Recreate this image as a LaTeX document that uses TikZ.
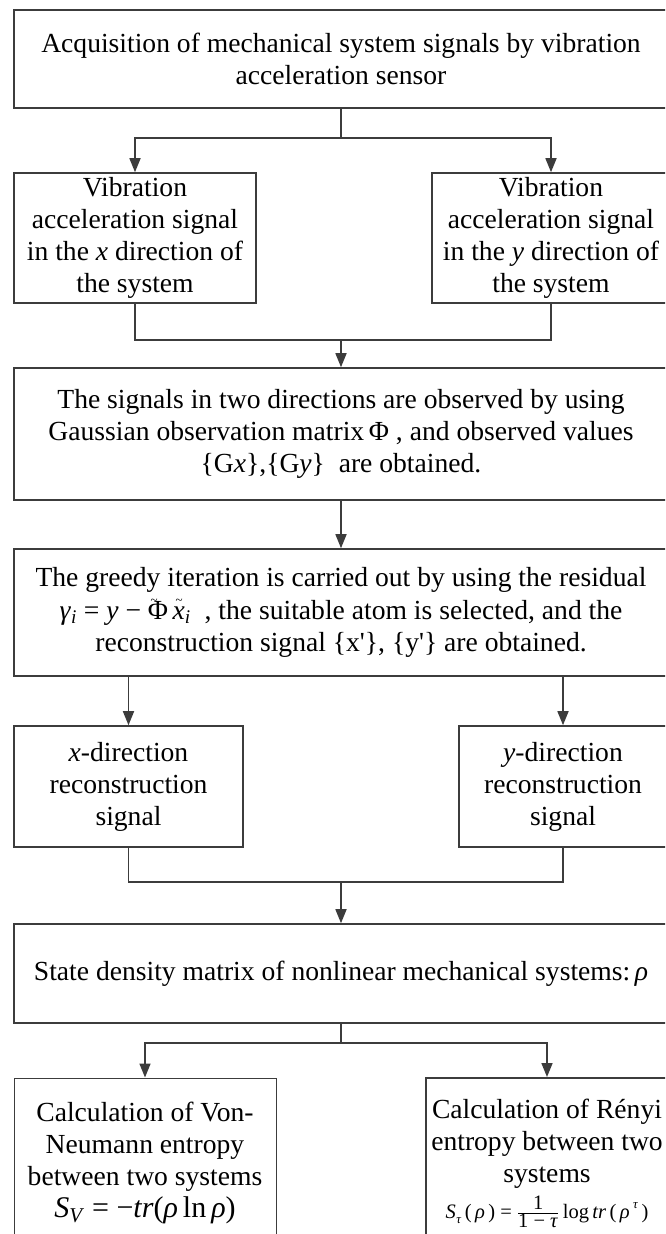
\documentclass[tikz,border=0pt]{standalone}
\usepackage{fontspec}
\setmainfont{Liberation Serif}
\usetikzlibrary{arrows.meta}
\definecolor{lc}{HTML}{3C3C3C}
\newcommand\tldover[1]{\makebox[0pt][l]{\hspace{0.1em}\raisebox{0.56em}{\fontsize{13}{13}\selectfont\textasciitilde}}#1}
\tikzset{
  box/.style={draw=lc, line width=1.6pt, rectangle, inner sep=0pt, align=center,
    font={\fontsize{27.6}{32}\selectfont}, text=black},
  conn/.style={draw=lc, line width=1.6pt},
  arr/.style={conn, -{Triangle[length=14pt,width=11pt]}},
}
\begin{document}
\begin{tikzpicture}[x=1pt,y=-1pt]
\useasboundingbox (0,0) rectangle (665,1234);
\clip (0,0) rectangle (665,1234);
\fill[white] (0,0) rectangle (665,1234);
% boxes
\node[box, minimum width=654pt, minimum height=98pt] (top) at (341,59)
  {Acquisition of mechanical system signals by vibration\\acceleration sensor};
\node[box, minimum width=242pt, minimum height=130pt] (b1L) at (135,238)
  {Vibration\\acceleration signal\\in the \textit{x} direction of\\the system};
\node[box, minimum width=238pt, minimum height=130pt] (b1R) at (551,238)
  {Vibration\\acceleration signal\\in the \textit{y} direction of\\the system};
\node[box, minimum width=654pt, minimum height=132pt] (b3) at (341,434)
  {The signals in two directions are observed by using\\Gaussian observation matrix\,Φ , and observed values\\\{G\textit{x}\},\{G\textit{y}\}~ are obtained.};
\node[box, minimum width=654pt, minimum height=127pt] (b4) at (341,612.5)
  {The greedy iteration is carried out by using the residual\\[1pt]
   \textit{γ}\textsubscript{\textit{i}} = \textit{y} − \tldover{Φ}\,\tldover{\textit{x}}\textsubscript{\textit{i}}~ , the suitable atom is selected, and the\hspace*{14pt}\\
   reconstruction signal \{x\textquotesingle\}, \{y\textquotesingle\} are obtained.};
\node[box, minimum width=229pt, minimum height=121pt] (xL) at (128.5,786.5)
  {\textit{x}-direction\\reconstruction\\signal};
\node[box, minimum width=208pt, minimum height=121pt] (yR) at (563,786.5)
  {\textit{y}-direction\\reconstruction\\signal};
\node[box, minimum width=654pt, minimum height=99pt] (st) at (341,973.5)
  {State density matrix of nonlinear mechanical systems:\,\textit{ρ}};
\node[box, line width=1pt, minimum width=262pt, minimum height=170pt] (bL) at (145,1163)
  {Calculation of Von-\\Neumann entropy\\between two systems\\
   {\fontsize{30}{32}\selectfont\textit{S}\textsubscript{\textit{V}} = −\textit{tr}(\textit{ρ}\,ln\,\textit{ρ})}};
\node[box, line width=2pt, minimum width=242pt, minimum height=170pt] (bR) at (547,1163)
  {Calculation of Rényi\\entropy between two\\systems\\[4pt]
   {\fontsize{20.5}{20}\selectfont\textit{S}\kern0.5pt\raisebox{-0.25em}{\fontsize{13}{13}\selectfont\textit{τ}}\,(\,\textit{ρ}\,) = $\frac{\mbox{1}}{\mbox{1 − \textit{τ}}}$\,log\,\textit{tr}\,(\,\textit{ρ}\,\raisebox{0.45em}{\fontsize{13}{13}\selectfont\textit{τ}}\,)}};
% junctions
\coordinate (j1) at (341,138);
\coordinate (j2) at (341,340);
\coordinate (j3) at (341,882);
\coordinate (j4) at (341,1043);
% connectors
\draw[conn] (top.south) -- (j1);
\draw[arr] (j1) -| (b1L.north);
\draw[arr] (j1) -| (b1R.north);
\draw[conn] (b1L.south) |- (j2);
\draw[conn] (b1R.south) |- (j2);
\draw[arr] (j2) -- (b3.north);
\draw[arr] (b3.south) -- (b4.north);
\draw[arr] (b4.south -| xL.north) -- (xL.north);
\draw[arr] (b4.south -| yR.north) -- (yR.north);
\draw[conn] (xL.south) |- (j3);
\draw[conn] (yR.south) |- (j3);
\draw[arr] (j3) -- (st.north);
\draw[conn] (st.south) -- (j4);
\draw[arr] (j4) -| (bL.north);
\draw[arr] (j4) -| (bR.north);
\end{tikzpicture}
\end{document}
